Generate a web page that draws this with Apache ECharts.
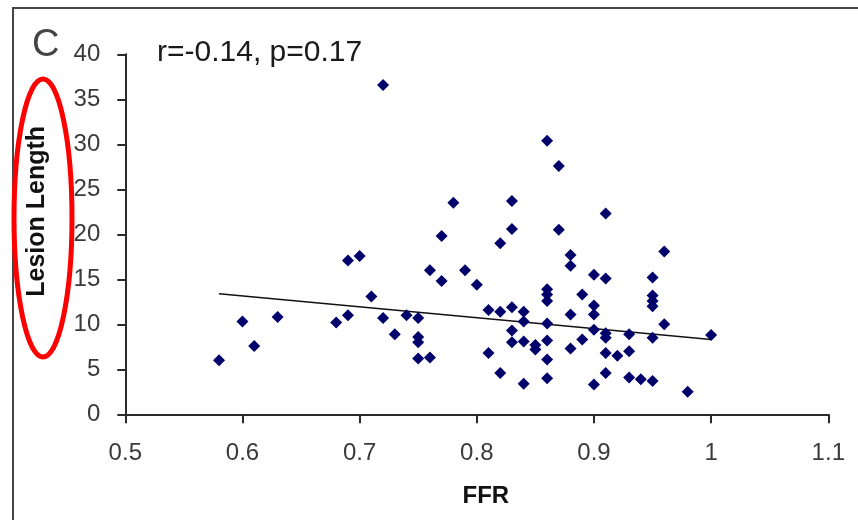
<!DOCTYPE html>
<html>
<head>
<meta charset="utf-8">
<script src="https://cdn.jsdelivr.net/npm/echarts@6/dist/echarts.min.js"></script>
<style>
html,body{margin:0;padding:0;background:#fff;}
#chart{width:858px;height:520px;}
</style>
</head>
<body>
<div id="chart"></div>
<script>
// FFR values (x)
var ffr = [0.58,0.60,0.61,0.63,0.68,0.69,0.69,0.70,0.71,0.72,0.72,0.73,0.74,0.75,0.75,0.75,0.75,0.76,0.76,0.77,
           0.77,0.78,0.79,0.80,0.81,0.81,0.82,0.82,0.82,0.83,0.83,0.83,0.83,0.83,0.84,0.84,0.84,0.84,0.85,0.85,
           0.86,0.86,0.86,0.86,0.86,0.86,0.86,0.86,0.87,0.87,0.88,0.88,0.88,0.88,0.89,0.89,0.90,0.90,0.90,0.90,
           0.90,0.91,0.91,0.91,0.91,0.91,0.91,0.92,0.93,0.93,0.93,0.94,0.95,0.95,0.95,0.95,0.95,0.95,0.96,0.96,
           0.98,1.00];
// Lesion length values (y)
var lesionLength = [6.0,10.3,7.6,10.8,10.2,11.0,17.1,17.6,13.1,10.7,36.6,8.9,11.0,10.7,8.6,8.0,6.2,6.3,16.0,19.8,
           14.8,23.5,16.0,14.4,11.6,6.8,11.4,19.0,4.6,23.7,20.6,11.9,9.3,8.0,11.4,10.3,8.1,3.4,7.7,7.2,
           30.4,13.9,13.3,12.6,10.1,8.2,6.1,4.0,27.6,20.5,17.7,16.5,11.1,7.3,13.3,8.3,15.5,12.1,11.1,9.4,
           3.3,22.3,15.1,9.0,8.5,6.8,4.6,6.5,7.0,8.9,4.1,3.9,3.7,15.2,13.2,12.6,12.0,8.5,10.0,18.1,
           2.5,8.8];
// Linear trend line end points
var trendX = [0.58, 1.00];
var trendY = [13.4, 8.3];
// Tick labels
var xTickLabels = ['0.5','0.6','0.7','0.8','0.9','1','1.1'];
var yTickLabels = ['0','5','10','15','20','25','30','35','40'];

var scatterData = ffr.map(function(v, i){ return [v, lesionLength[i]]; });
var trendData = trendX.map(function(v, i){ return [v, trendY[i]]; });

var chart = echarts.init(document.getElementById('chart'), null, {renderer:'canvas'});
var axisCol = '#2a2a2a';
chart.setOption({
  backgroundColor: '#ffffff',
  animation: false,
  grid: {left: 125.3, right: 29.7, top: 54.3, bottom: 105.7, containLabel: false},
  xAxis: {
    type: 'value', min: 0.5, max: 1.1, interval: 0.1,
    name: 'FFR', nameLocation: 'middle', nameGap: 70,
    nameTextStyle: {fontFamily: 'Liberation Sans, Arial, sans-serif', fontWeight: 'bold', fontSize: 24, color: '#111', padding: [0,0,0,18]},
    axisLine: {show: true, onZero: false, lineStyle: {color: axisCol, width: 2}},
    axisTick: {show: true, inside: false, length: 9, lineStyle: {color: axisCol, width: 2}},
    axisLabel: {margin: 27, fontFamily: 'Liberation Sans, Arial, sans-serif', fontSize: 24, color: '#3a3a3a',
      formatter: function(v){ var i = Math.round((v - 0.5) / 0.1); return xTickLabels[i] !== undefined ? xTickLabels[i] : ''; }},
    splitLine: {show: false}
  },
  yAxis: {
    type: 'value', min: 0, max: 40, interval: 5,
    name: 'Lesion Length', nameLocation: 'middle', nameGap: 76,
    nameTextStyle: {fontFamily: 'Liberation Sans, Arial, sans-serif', fontWeight: 'bold', fontSize: 25, color: '#111', padding: [0,0,0,46]},
    axisLine: {show: true, onZero: false, lineStyle: {color: axisCol, width: 2}},
    axisTick: {show: true, inside: false, length: 8, lineStyle: {color: axisCol, width: 2}},
    axisLabel: {margin: 25, fontFamily: 'Liberation Sans, Arial, sans-serif', fontSize: 24, color: '#3a3a3a',
      formatter: function(v){ var i = Math.round(v / 5); return yTickLabels[i] !== undefined ? yTickLabels[i] : ''; }},
    splitLine: {show: false}
  },
  series: [
    {
      type: 'scatter', data: scatterData, symbol: 'diamond', symbolSize: 12,
      itemStyle: {color: '#00006a', opacity: 1}, z: 3
    },
    {
      type: 'line', data: trendData, showSymbol: false, symbol: 'none',
      lineStyle: {color: '#111', width: 1.5}, z: 2, silent: true
    }
  ],
  graphic: [
    {type: 'rect', shape: {x: 13, y: 8, width: 900, height: 600}, style: {fill: 'none', stroke: '#444', lineWidth: 2}, z: -1, silent: true},
    {type: 'text', left: 32, top: 27, style: {text: 'C', font: '38px "Liberation Sans", Arial, sans-serif', fill: '#444'}},
    {type: 'text', left: 157, top: 38, style: {text: 'r=-0.14, p=0.17', font: '30px "Liberation Sans", Arial, sans-serif', fill: '#1a1a1a'}},
    {type: 'ellipse', shape: {cx: 43, cy: 218, rx: 29, ry: 139}, style: {fill: 'none', stroke: '#ff0000', lineWidth: 5}, z: 10, silent: true}
  ]
});
</script>
</body>
</html>
